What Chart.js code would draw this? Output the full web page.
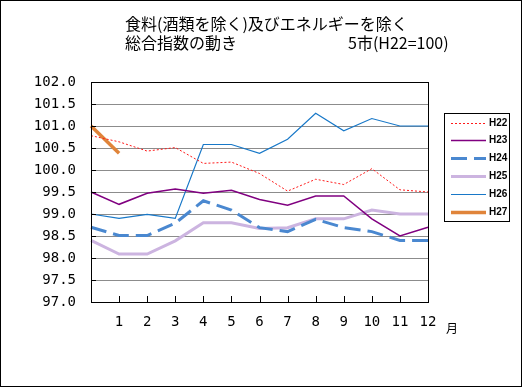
<!DOCTYPE html>
<html>
<head>
<meta charset="utf-8">
<script src="https://cdn.jsdelivr.net/npm/chart.js@4/dist/chart.umd.min.js"></script>
<style>
  html, body { margin: 0; padding: 0; background: #fff; }
  canvas { display: block; }
</style>
</head>
<body>
<canvas id="cpiChart" width="522" height="387"></canvas>
<script>
// 月（0 は前年12月）
const months = ['', '1', '2', '3', '4', '5', '6', '7', '8', '9', '10', '11', '12'];
const seriesNames = ['H22', 'H23', 'H24', 'H25', 'H26', 'H27'];
const h22 = [100.78, 100.64, 100.43, 100.51, 100.15, 100.18, 99.92, 99.52, 99.79, 99.67, 100.03, 99.55, 99.5];
const h23 = [99.5, 99.22, 99.47, 99.57, 99.47, 99.54, 99.33, 99.2, 99.41, 99.41, 98.89, 98.5, 98.7];
const h24 = [98.7, 98.51, 98.51, 98.79, 99.3, 99.09, 98.69, 98.6, 98.88, 98.69, 98.6, 98.4, 98.4];
const h25 = [98.4, 98.09, 98.09, 98.39, 98.8, 98.8, 98.67, 98.69, 98.89, 98.89, 99.09, 99.0, 99.0];
const h26 = [99.0, 98.9, 98.99, 98.9, 100.58, 100.58, 100.38, 100.7, 101.29, 100.89, 101.17, 101.0, 101.0];
const h27 = [101.0, 100.38];
const yTicks = { min: 97, max: 102, step: 0.5 };

const monoFont = { family: "'DejaVu Sans Mono', monospace", size: 14 };

function series(label, data, color, width, dash) {
    return {
        label: label,
        data: data,
        borderColor: color,
        backgroundColor: color,
        borderWidth: width,
        borderDash: dash || [],
        pointRadius: 0,
        tension: 0,
        fill: false
    };
}

// タイトル・凡例・枠線などを描く
const decorations = {
    id: 'decorations',
    beforeDraw(chart) {
        const ctx = chart.ctx;
        ctx.save();
        ctx.fillStyle = '#fff';
        ctx.fillRect(0, 0, chart.width, chart.height);
        ctx.restore();
    },
    afterDraw(chart) {
        const ctx = chart.ctx;
        const area = chart.chartArea;
        const xs = chart.scales.x;
        const ys = chart.scales.y;
        ctx.save();

        // 外枠
        ctx.strokeStyle = '#000';
        ctx.lineWidth = 1;
        ctx.strokeRect(0.5, 0.5, chart.width - 1, chart.height - 1);

        // プロット枠
        ctx.strokeRect(Math.round(area.left) + 0.5, Math.round(area.top) + 0.5,
            Math.round(area.right - area.left), Math.round(area.bottom - area.top));

        // 目盛り（内向き）
        ctx.beginPath();
        for (let i = 1; i < months.length; i++) {
            const px = Math.round(xs.getPixelForValue(i)) + 0.5;
            ctx.moveTo(px, area.bottom);
            ctx.lineTo(px, area.bottom - 6);
        }
        for (let v = yTicks.min + yTicks.step; v < yTicks.max; v += yTicks.step) {
            const py = Math.round(ys.getPixelForValue(v)) + 0.5;
            ctx.moveTo(area.left, py);
            ctx.lineTo(area.left + 5, py);
        }
        ctx.stroke();

        // タイトル
        ctx.fillStyle = '#000';
        ctx.textBaseline = 'middle';
        ctx.font = "16px 'Noto Sans CJK JP'";
        ctx.fillText('食料(酒類を除く)及びエネルギーを除く', 125, 24);
        ctx.fillText('総合指数の動き', 125, 43);
        ctx.fillText('5市(H22=100)', 348, 43);

        // 月
        ctx.font = "12px 'Noto Sans CJK JP'";
        ctx.fillText('月', 446, 328);

        // 凡例
        const lx = 444, ly = 113, lw = 65, lh = 108;
        ctx.fillStyle = '#fff';
        ctx.fillRect(lx, ly, lw, lh);
        ctx.strokeStyle = '#000';
        ctx.lineWidth = 1;
        ctx.strokeRect(lx + 0.5, ly + 0.5, lw, lh);
        ctx.font = "bold 10px 'Liberation Sans Narrow', 'Liberation Sans'";
        chart.data.datasets.forEach((ds, i) => {
            const y = Math.round(ly + 9.5 + i * 17.8) + 0.5;
            ctx.strokeStyle = ds.borderColor;
            ctx.lineWidth = ds.borderWidth;
            ctx.setLineDash(ds.borderDash);
            ctx.beginPath();
            ctx.moveTo(451, y);
            ctx.lineTo(486, y);
            ctx.stroke();
            ctx.setLineDash([]);
            ctx.fillStyle = '#000';
            ctx.fillText(ds.label, 489, y);
        });

        ctx.restore();
    }
};

new Chart(document.getElementById('cpiChart'), {
    type: 'line',
    data: {
        labels: months,
        datasets: [
            series(seriesNames[0], h22, '#ff1a1a', 1, [2, 2]),
            series(seriesNames[1], h23, '#800080', 1.5),
            series(seriesNames[2], h24, '#4a88d0', 3, [16, 7]),
            series(seriesNames[3], h25, '#ccb4e0', 3),
            series(seriesNames[4], h26, '#1878c8', 1.2),
            series(seriesNames[5], h27, '#e0843a', 3.5)
        ]
    },
    plugins: [decorations],
    options: {
        responsive: false,
        animation: false,
        devicePixelRatio: 1,
        layout: { padding: { left: 0, top: 82, right: 94, bottom: 0 } },
        plugins: {
            legend: { display: false },
            title: { display: false },
            tooltip: { enabled: false }
        },
        scales: {
            x: {
                type: 'category',
                offset: false,
                grid: { display: false, drawTicks: false },
                border: { color: '#000', width: 1 },
                ticks: { font: monoFont, color: '#000', padding: 12, autoSkip: false, maxRotation: 0 },
                afterFit(scale) { scale.height = 387 - 302; }
            },
            y: {
                min: yTicks.min,
                max: yTicks.max,
                grid: { color: '#8c8c8c', drawTicks: false },
                border: { color: '#000', width: 1 },
                ticks: {
                    stepSize: yTicks.step,
                    font: monoFont,
                    color: '#000',
                    padding: 15,
                    callback: v => v.toFixed(1)
                },
                afterFit(scale) { scale.width = 91; }
            }
        }
    }
});
</script>
</body>
</html>
